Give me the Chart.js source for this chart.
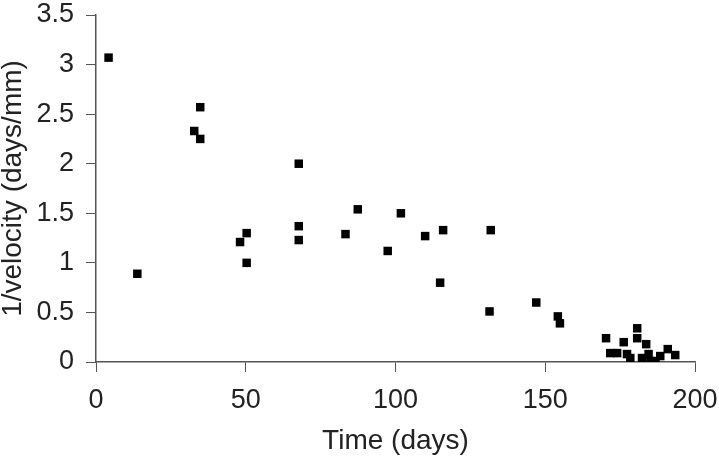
<!DOCTYPE html>
<html>
<head>
<meta charset="utf-8">
<script src="https://cdn.jsdelivr.net/npm/chart.js@4/dist/chart.umd.min.js"></script>
<style>
  html, body { margin: 0; padding: 0; background: #fff; }
  #wrap { width: 719px; height: 460px; }
</style>
</head>
<body>
<div id="wrap"><canvas id="mycanvas" width="719" height="460"></canvas></div>
<script>
// time (days) and 1/velocity (days/mm)
var days = [4.2, 13.8, 32.8, 34.8, 34.8, 48.1, 50.3, 50.3, 67.7, 67.7, 67.7,
	83.3, 87.4, 97.4, 101.8, 109.9, 114.9, 115.9, 131.4, 131.8, 147.0, 154.2, 154.9,
	170.3, 171.7, 174.0, 176.2, 177.3, 178.4, 180.7, 180.7, 182.3, 183.7, 184.5,
	185.1, 186.8, 188.4, 190.9, 193.4];
var invVelocity = [3.07, 0.89, 2.33, 2.57, 2.25, 1.21, 1.30, 1.00, 2.00, 1.37, 1.23,
	1.29, 1.54, 1.12, 1.50, 1.27, 0.80, 1.33, 0.51, 1.33, 0.60, 0.46, 0.39,
	0.24, 0.09, 0.09, 0.20, 0.08, 0.04, 0.34, 0.24, 0.04, 0.18, 0.08,
	0.01, 0.01, 0.06, 0.13, 0.07];
var xTicks = [0, 50, 100, 150, 200];
var yTicks = [0, 0.5, 1, 1.5, 2, 2.5, 3, 3.5];

var points = [];
for (var i in days) {
	points.push({x: days[i], y: invVelocity[i]});
}

var axisColor = '#555';
var font = {family: 'Liberation Sans, Arial, sans-serif', size: 27};
var titleFont = {family: 'Liberation Sans, Arial, sans-serif', size: 28, lineHeight: 1};

var ctx = document.getElementById('mycanvas');
var chart = new Chart(ctx, {
	type: 'scatter',
	data: {
		datasets: [{
			label: 'Velocity',
			data: points,
			pointStyle: 'rect',
			pointRadius: 6,
			pointHoverRadius: 6,
			backgroundColor: '#000',
			borderWidth: 0
		}]
	},
	options: {
		responsive: false,
		animation: false,
		layout: {padding: {top: 15, right: 24, left: 0, bottom: 0}},
		plugins: {legend: {display: false}, tooltip: {enabled: false}},
		scales: {
			x: {
				type: 'linear',
				min: 0, max: 200,
				afterBuildTicks: function(axis) {
					axis.ticks = xTicks.map(function(v) { return {value: v}; });
				},
				afterFit: function(axis) {
					axis.height = 98;
					axis.paddingLeft = 0;
					axis.paddingRight = 0;
				},
				grid: {drawOnChartArea: false, drawTicks: true, tickLength: 10, color: axisColor},
				border: {color: axisColor, width: 1.5},
				ticks: {color: '#222', font: font, padding: 12, maxRotation: 0},
				title: {display: true, text: 'Time (days)', color: '#222', font: titleFont, padding: {top: 0, bottom: 5}}
			},
			y: {
				type: 'linear',
				min: 0, max: 3.5,
				afterBuildTicks: function(axis) {
					axis.ticks = yTicks.map(function(v) { return {value: v}; });
				},
				afterFit: function(axis) {
					axis.width = 96;
					axis.paddingTop = 0;
					axis.paddingBottom = 0;
				},
				grid: {drawOnChartArea: false, drawTicks: true, tickLength: 10, color: axisColor},
				border: {color: axisColor, width: 1.5},
				ticks: {
					color: '#222', font: font, padding: 12,
					callback: function(v) { return String(v); }
				},
				title: {
					display: true, text: '1/velocity (days/mm)', color: '#222',
					font: titleFont,
					padding: {top: -1, bottom: 0}
				}
			}
		}
	}
});
</script>
</body>
</html>
